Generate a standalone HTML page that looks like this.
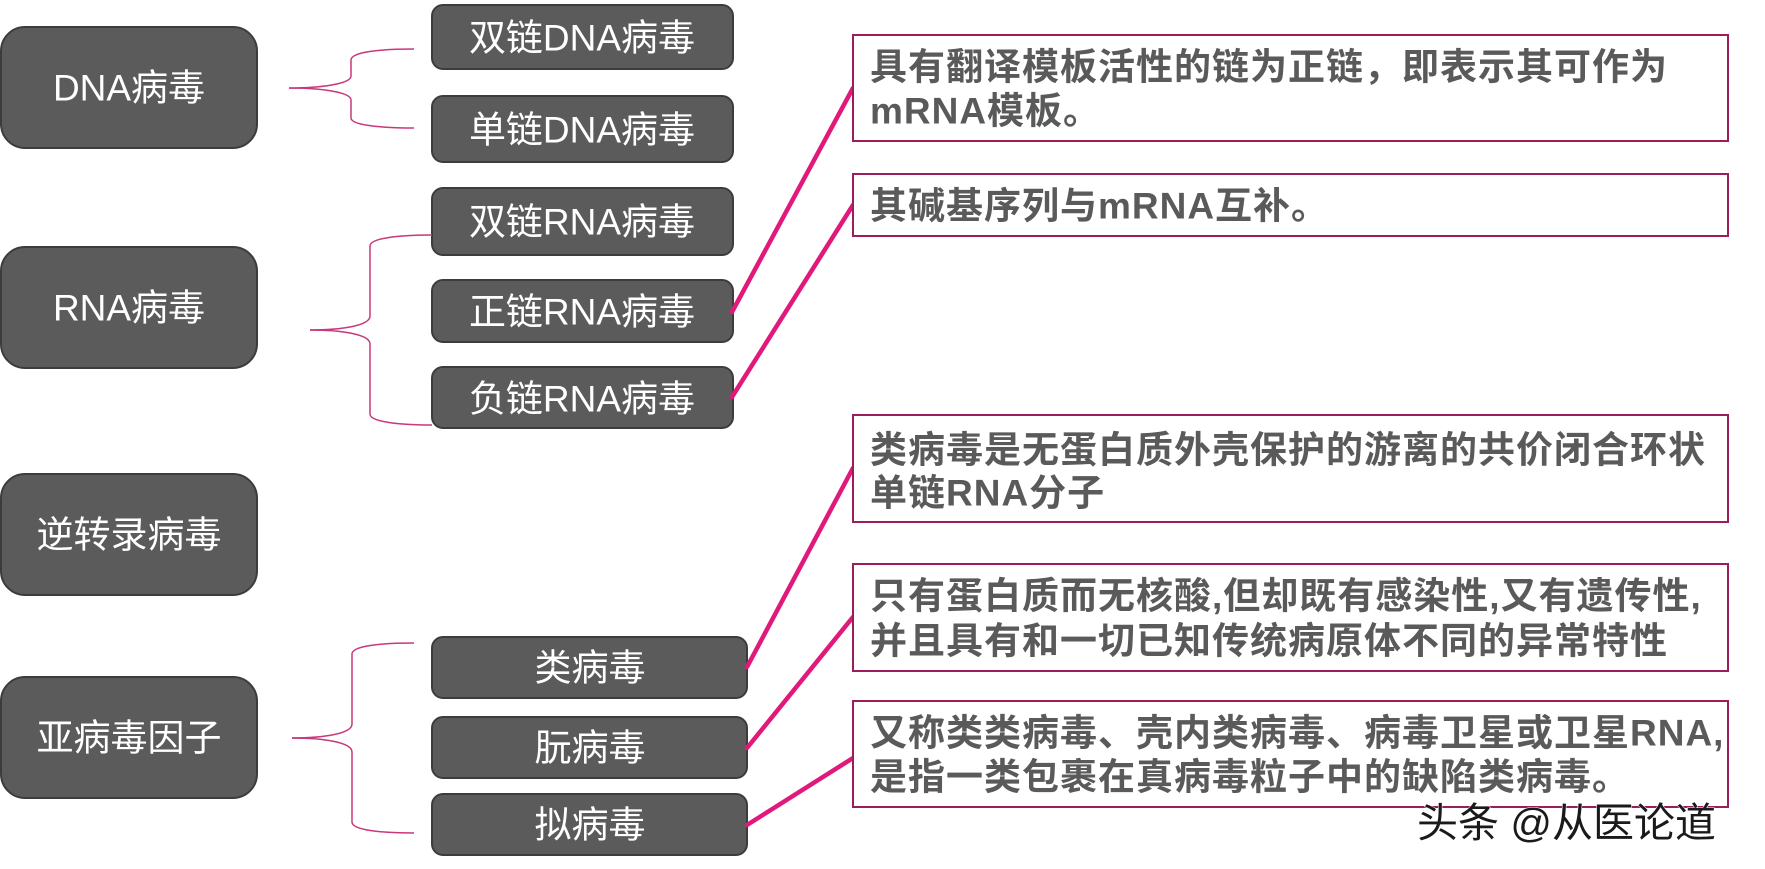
<!DOCTYPE html>
<html><head><meta charset="utf-8"><style>
html,body{margin:0;padding:0;background:#fff;}
svg{display:block;}
.bx{fill:#5b5b5b;stroke:#3c3c3c;stroke-width:2;}
.wt{fill:#fff;font-family:"Liberation Sans","Noto Sans CJK SC",sans-serif;font-size:37px;text-anchor:middle;dominant-baseline:central;}
.rb{fill:#fff;stroke:#9c1d5c;stroke-width:2;}
.gt{fill:#5a5a5a;font-family:"Liberation Sans","Noto Sans CJK SC",sans-serif;font-size:37px;font-weight:bold;dominant-baseline:central;letter-spacing:1px;}
.br{fill:none;stroke:#c8387a;stroke-width:1.5;}
.ml{stroke:#e0197a;stroke-width:4.5;stroke-linecap:round;}
</style></head><body>
<svg width="1765" height="869" viewBox="0 0 1765 869" xmlns="http://www.w3.org/2000/svg">
<rect class="bx" x="1" y="27" width="256" height="121" rx="24"/>
<text class="wt" x="129" y="88">DNA病毒</text>
<rect class="bx" x="1" y="247" width="256" height="121" rx="24"/>
<text class="wt" x="129" y="308">RNA病毒</text>
<rect class="bx" x="1" y="474" width="256" height="121" rx="24"/>
<text class="wt" x="129" y="535">逆转录病毒</text>
<rect class="bx" x="1" y="677" width="256" height="121" rx="24"/>
<text class="wt" x="129" y="738">亚病毒因子</text>

<rect class="bx" x="432" y="5" width="301" height="64" rx="11"/>
<text class="wt" x="582" y="38">双链DNA病毒</text>
<rect class="bx" x="432" y="96" width="301" height="66" rx="11"/>
<text class="wt" x="582" y="130">单链DNA病毒</text>
<rect class="bx" x="432" y="188" width="301" height="67" rx="11"/>
<text class="wt" x="582" y="222">双链RNA病毒</text>
<rect class="bx" x="432" y="280" width="301" height="62" rx="11"/>
<text class="wt" x="582" y="312">正链RNA病毒</text>
<rect class="bx" x="432" y="367" width="301" height="61" rx="11"/>
<text class="wt" x="582" y="399">负链RNA病毒</text>
<rect class="bx" x="432" y="637" width="315" height="61" rx="11"/>
<text class="wt" x="590" y="668">类病毒</text>
<rect class="bx" x="432" y="717" width="315" height="61" rx="11"/>
<text class="wt" x="590" y="748">朊病毒</text>
<rect class="bx" x="432" y="794" width="315" height="61" rx="11"/>
<text class="wt" x="590" y="825">拟病毒</text>

<path class="br" d="M289 88 C320 88 351 84 351 76 L351 60 C351 52 380 49 414 49"/>
<path class="br" d="M289 88 C320 88 351 92 351 100 L351 118 C351 125 380 128 414 128"/>
<path class="br" d="M310 330 C340 330 370 326 370 316 L370 246 C370 238 400 235 432 235"/>
<path class="br" d="M310 330 C340 330 370 334 370 344 L370 414 C370 422 400 425 432 425"/>
<path class="br" d="M292 738 C322 738 352 734 352 724 L352 654 C352 646 380 643 414 643"/>
<path class="br" d="M292 738 C322 738 352 742 352 752 L352 822 C352 830 380 833 414 833"/>

<line class="ml" x1="732" y1="312" x2="853" y2="88"/>
<line class="ml" x1="732" y1="397" x2="853" y2="205"/>
<line class="ml" x1="747" y1="667" x2="853" y2="468"/>
<line class="ml" x1="747" y1="748" x2="853" y2="617"/>
<line class="ml" x1="747" y1="825" x2="853" y2="758"/>

<rect class="rb" x="853" y="35" width="875" height="106"/>
<text class="gt" x="870" y="67">具有翻译模板活性的链为正链，即表示其可作为</text>
<text class="gt" x="870" y="111">mRNA模板。</text>
<rect class="rb" x="853" y="174" width="875" height="62"/>
<text class="gt" x="870" y="206">其碱基序列与mRNA互补。</text>
<rect class="rb" x="853" y="415" width="875" height="107"/>
<text class="gt" x="870" y="450">类病毒是无蛋白质外壳保护的游离的共价闭合环状</text>
<text class="gt" x="870" y="493">单链RNA分子</text>
<rect class="rb" x="853" y="564" width="875" height="107"/>
<text class="gt" x="870" y="596">只有蛋白质而无核酸,但却既有感染性,又有遗传性,</text>
<text class="gt" x="870" y="641">并且具有和一切已知传统病原体不同的异常特性</text>
<rect class="rb" x="853" y="701" width="875" height="106"/>
<text class="gt" x="870" y="733">又称类类病毒、壳内类病毒、病毒卫星或卫星RNA,</text>
<text class="gt" x="870" y="777">是指一类包裹在真病毒粒子中的缺陷类病毒。</text>

<text x="1417" y="823" style="font-family:'Liberation Sans','Noto Sans CJK SC',sans-serif;font-size:41px;fill:#1a1a1a;stroke:#fff;stroke-width:1;paint-order:stroke;dominant-baseline:central;">头条 @从医论道</text>
</svg>
</body></html>
